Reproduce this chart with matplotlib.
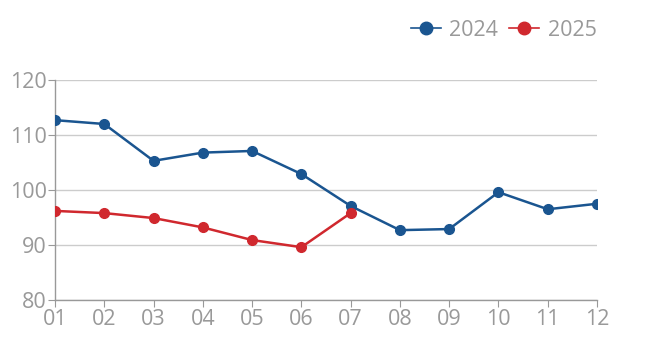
import matplotlib
matplotlib.use("Agg")
import matplotlib.pyplot as plt
from matplotlib.lines import Line2D

months = ["01", "02", "03", "04", "05", "06", "07", "08", "09", "10", "11", "12"]
v2024 = [112.7, 112.0, 105.3, 106.8, 107.1, 102.9, 97.1, 92.7, 92.9, 99.6, 96.5, 97.5]
v2025 = [96.2, 95.8, 94.9, 93.2, 90.9, 89.6, 95.8]
yticks = [80, 90, 100, 110, 120]

plt.rcParams['font.family'] = ['Open Sans', 'DejaVu Sans']
blue = "#1a5590"
red = "#d0282e"
grey = "#999999"

fig = plt.figure(figsize=(6.54, 3.51), dpi=100)
ax = fig.add_axes([55/654, 51/351, 542/654, 220/351])

x = list(range(len(months)))
ax.plot(x, v2024, color=blue, lw=1.8, marker='o', ms=7, zorder=3)
ax.plot(x[:len(v2025)], v2025, color=red, lw=1.8, marker='o', ms=7, zorder=3)

ax.set_xlim(0, len(months) - 1)
ax.set_ylim(80, 120)
ax.set_xticks(x)
ax.set_xticklabels(months)
ax.set_yticks(yticks)
ax.set_yticklabels([str(t) for t in yticks])
ax.grid(axis='y', color='#cccccc', lw=1)
ax.set_axisbelow(True)
for s in ['top', 'right']:
    ax.spines[s].set_visible(False)
for s in ['left', 'bottom']:
    ax.spines[s].set_color('#999999')
    ax.spines[s].set_linewidth(1)
ax.tick_params(axis='x', colors='#999999', labelcolor=grey, labelsize=15.5, length=5, pad=1.5)
ax.tick_params(axis='y', colors='#999999', labelcolor=grey, labelsize=15.5, length=5, pad=1)

handles = [Line2D([], [], color=blue, lw=1.2, marker='o', ms=9),
           Line2D([], [], color=red, lw=1.2, marker='o', ms=9)]
fig.legend(handles, ["2024", "2025"], loc='center right', bbox_to_anchor=(616/654, 1 - 30/351),
           ncol=2, frameon=False, fontsize=15.5, labelcolor=grey, handlelength=1.4,
           handletextpad=0.4, columnspacing=0.5)

fig.savefig("out.png", dpi=100)
